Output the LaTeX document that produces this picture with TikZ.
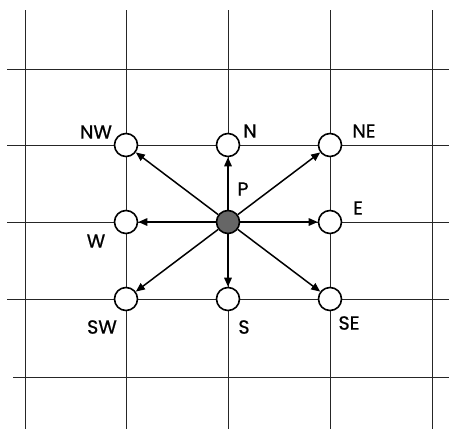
\documentclass[tikz,border=0pt]{standalone}
\usepackage{fontspec}
\setmainfont{Poppins}
\newfontfamily\lblfont[FakeBold=0.8]{Poppins}
\usetikzlibrary{arrows.meta}
\begin{document}
\begin{tikzpicture}[x=1pt,y=-1pt,
  grid/.style={draw=black!85,line width=1pt},
  cell/.style={circle,draw=black,line width=1.6pt,fill=white,minimum size=23pt,inner sep=0pt},
  center/.style={cell,fill=black!60},
  arr/.style={line width=1.5pt,-{Triangle[length=9pt,width=7.5pt]}},
  lbl/.style={font=\lblfont\fontsize{19}{20}\selectfont,inner sep=0pt}]
\useasboundingbox (0,0) rectangle (449,429);
% grid
\foreach \x in {25,126,228,330,432} \draw[grid] (\x,10) -- (\x,429);
\foreach \y in {69,145,222,299} \draw[grid] (7,\y) -- (449,\y);
\draw[grid] (13,377) -- (449,377);
% nodes
\node[cell] (NW) at (126,145) {};
\node[cell] (N) at (228,145) {};
\node[cell] (NE) at (330,145) {};
\node[cell] (W) at (126,222) {};
\node[center] (P) at (228,222) {};
\node[cell] (E) at (330,222) {};
\node[cell] (SW) at (126,299) {};
\node[cell] (S) at (228,299) {};
\node[cell] (SE) at (330,299) {};
% arrows
\foreach \t in {NW,N,NE,W,E,SW,S,SE} \draw[arr] (P) -- (\t);
% labels
\node[lbl] (lNW) at (96,132) {NW};
\node[lbl] (lN) at (250,131) {N};
\node[lbl] (lNE) at (364,131) {NE};
\node[lbl] (lP) at (243,189) {P};
\node[lbl] (lE) at (358,208) {E};
\node[lbl] (lW) at (96,241) {W};
\node[lbl] (lSW) at (102,327) {SW};
\node[lbl] (lS) at (244,327) {S};
\node[lbl] (lSE) at (349,323) {SE};
\end{tikzpicture}
\end{document}
